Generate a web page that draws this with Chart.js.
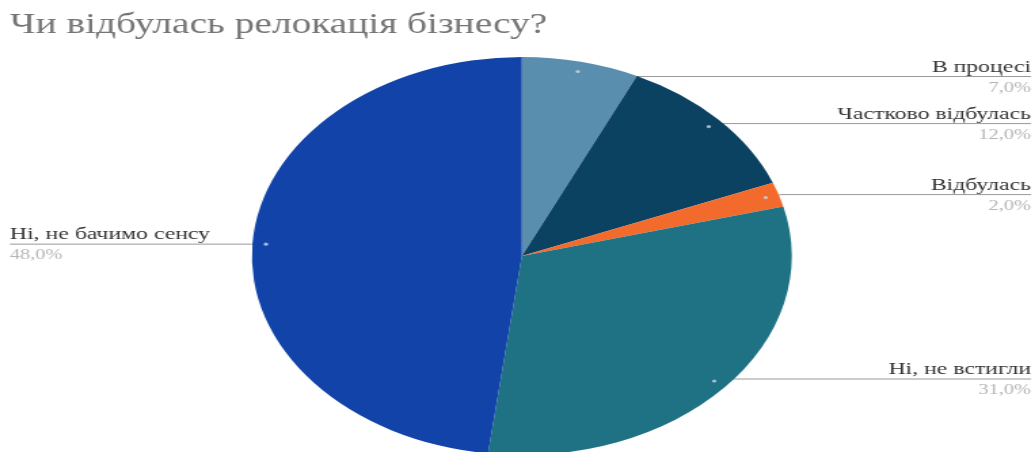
<!DOCTYPE html>
<html>
<head>
<meta charset="utf-8">
<script src="https://cdn.jsdelivr.net/npm/chart.js@4.4.1/dist/chart.umd.min.js"></script>
<style>
  html, body { margin: 0; padding: 0; background: #ffffff; overflow: hidden; width: 1035px; height: 452px; }
  #wrap { position: absolute; left: 0; top: 0; transform-origin: 0 0; transform: scaleX(1.3565); }
  canvas { display: block; }
</style>
</head>
<body>
<div id="wrap"><canvas id="c" width="763" height="460"></canvas></div>
<script>
const title = 'Чи відбулась релокація бізнесу?';
const categories = ['В процесі', 'Частково відбулась', 'Відбулась', 'Ні, не встигли', 'Ні, не бачимо сенсу'];
const values = [7, 12, 2, 31, 48];
const valueLabels = ['7,0%', '12,0%', '2,0%', '31,0%', '48,0%'];
const colors = ['#5a8eae', '#0b4262', '#f36b2c', '#1f7184', '#1243a8'];

const SX = 1035 / 763;
const FONT = '"Liberation Serif", "Times New Roman", serif';

const labelSide = ['right', 'right', 'right', 'right', 'left'];
const lineShift = [5, -3, -3, -2, 0];

const labelPlugin = {
  id: 'pieLabels',
  beforeDatasetsDraw(chart) {
    const ctx = chart.ctx;
    const meta = chart.getDatasetMeta(0);
    ctx.save();
    ctx.strokeStyle = '#9a9a9a';
    ctx.lineWidth = 1;
    meta.data.forEach((arc, i) => {
      const mid = (arc.startAngle + arc.endAngle) / 2;
      const r = arc.outerRadius * 0.95;
      const dx = arc.x + Math.cos(mid) * r;
      const dy = arc.y + Math.sin(mid) * r;
      const ly = dy + lineShift[i];
      const endX = labelSide[i] === 'right' ? 1031 / SX : 10 / SX;
      ctx.beginPath();
      ctx.moveTo(dx, dy);
      const edgeX = arc.x + Math.cos(mid) * arc.outerRadius * 1.01;
      ctx.lineTo(edgeX, ly);
      ctx.lineTo(endX, ly);
      ctx.stroke();
    });
    ctx.restore();
  },
  afterDatasetsDraw(chart) {
    const ctx = chart.ctx;
    const meta = chart.getDatasetMeta(0);
    ctx.save();
    ctx.fillStyle = '#757575';
    ctx.font = '29px ' + FONT;
    ctx.textAlign = 'left';
    ctx.textBaseline = 'alphabetic';
    ctx.fillText(title, 10 / SX, 33);
    meta.data.forEach((arc, i) => {
      const mid = (arc.startAngle + arc.endAngle) / 2;
      const r = arc.outerRadius * 0.95;
      const dx = arc.x + Math.cos(mid) * r;
      const dy = arc.y + Math.sin(mid) * r;
      const ly = dy + lineShift[i];
      ctx.fillStyle = 'rgba(200,215,230,0.8)';
      ctx.beginPath();
      ctx.arc(dx, dy, 1.6, 0, Math.PI * 2);
      ctx.fill();
      const right = labelSide[i] === 'right';
      const tx = right ? 1031 / SX : 10 / SX;
      ctx.textAlign = right ? 'right' : 'left';
      ctx.fillStyle = '#333333';
      ctx.font = '17.5px ' + FONT;
      ctx.fillText(categories[i], tx, ly - 5);
      ctx.fillStyle = '#b5b5b5';
      ctx.font = '15px ' + FONT;
      ctx.fillText(valueLabels[i], tx, ly + 15);
    });
    ctx.restore();
  }
};

new Chart(document.getElementById('c'), {
  type: 'pie',
  data: {
    labels: categories,
    datasets: [{
      data: values,
      backgroundColor: colors,
      borderWidth: 0
    }]
  },
  options: {
    responsive: false,
    animation: false,
    devicePixelRatio: 1,
    layout: { padding: { left: 185.7, right: 179.3, top: 57, bottom: 5 } },
    plugins: {
      legend: { display: false },
      tooltip: { enabled: false },
      title: { display: false }
    }
  },
  plugins: [labelPlugin]
});
</script>
</body>
</html>
